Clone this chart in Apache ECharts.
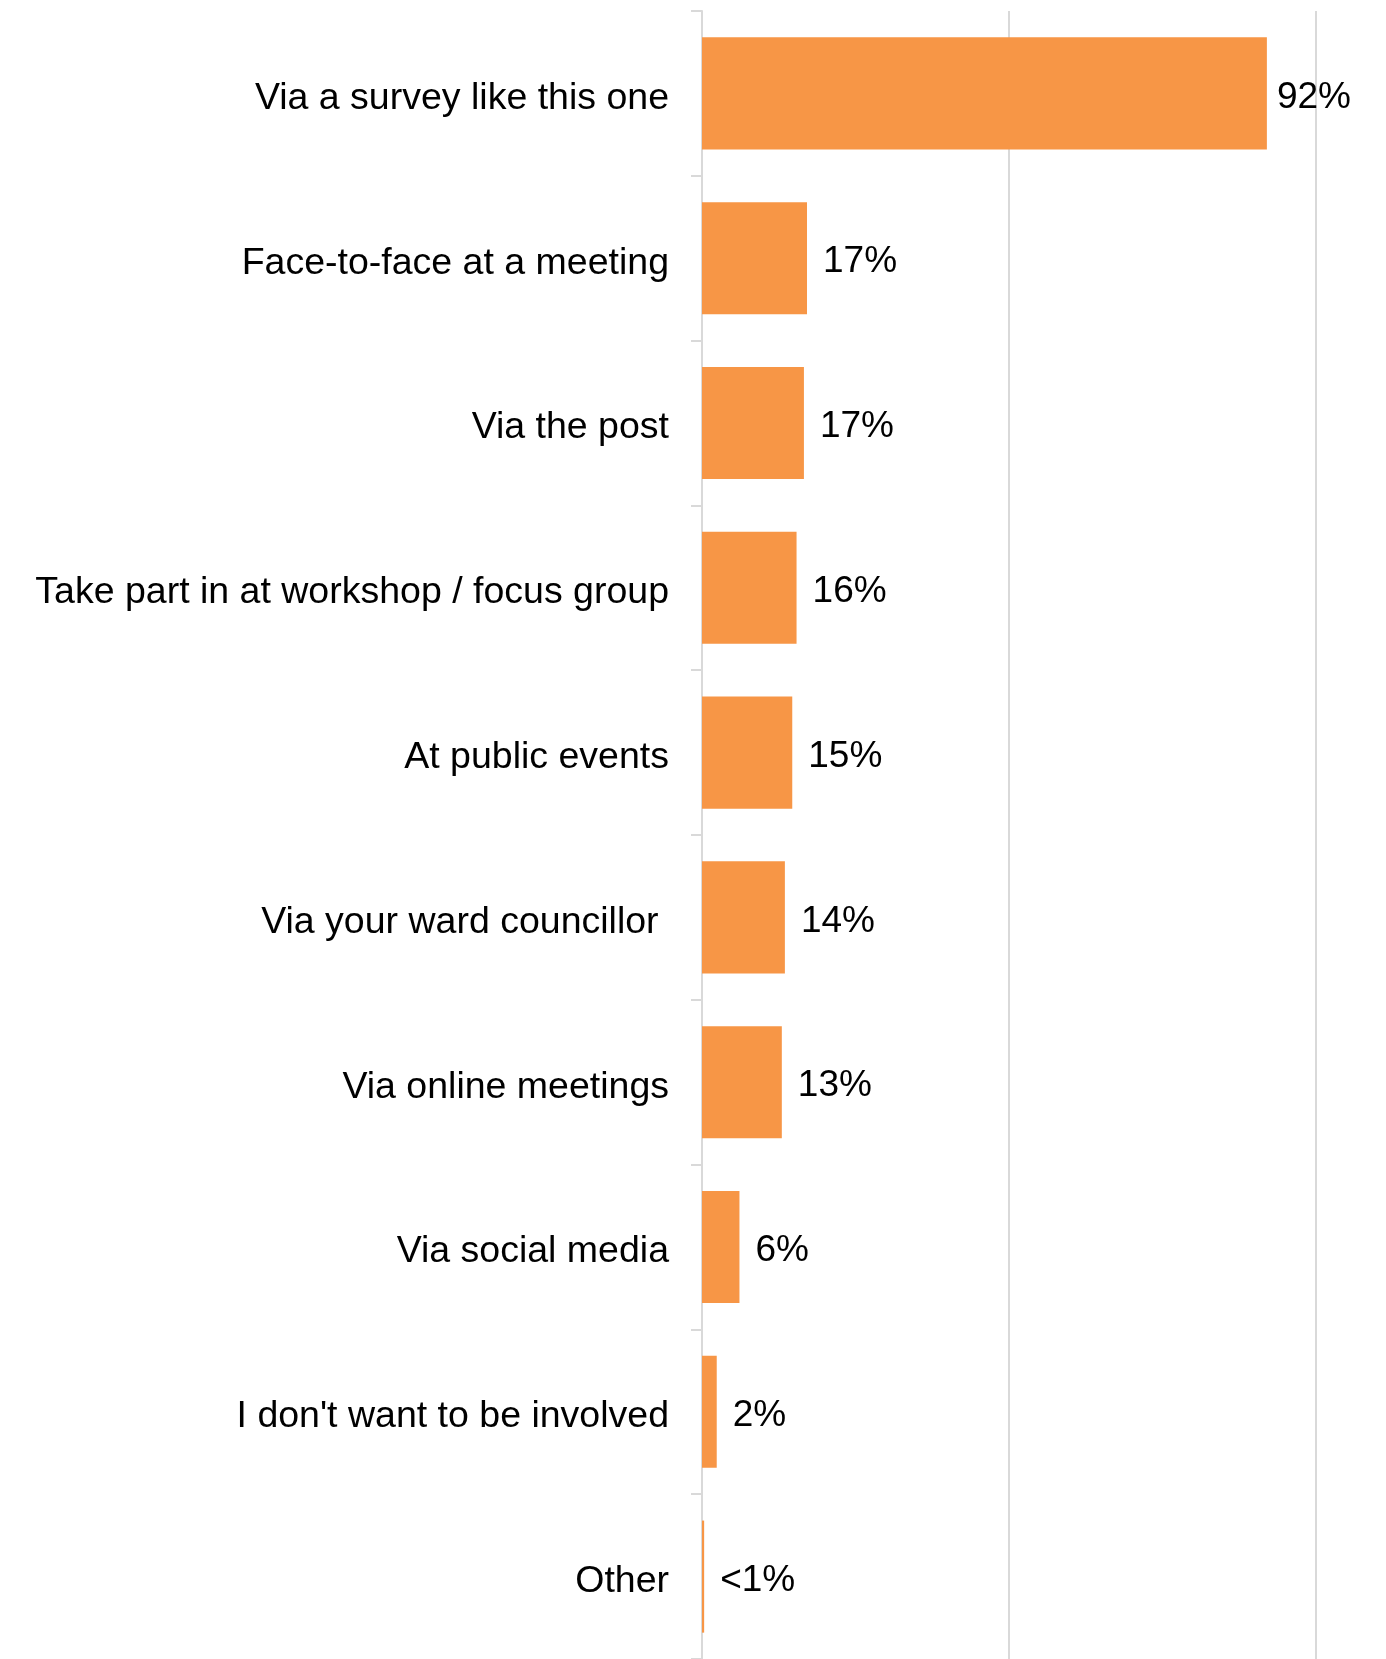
<!DOCTYPE html>
<html>
<head>
<meta charset="utf-8">
<script src="https://cdn.jsdelivr.net/npm/echarts@6/dist/echarts.min.js"></script>
<style>
html,body{margin:0;padding:0;background:#fff;}
#chart{width:1386px;height:1659px;}
</style>
</head>
<body>
<div id="chart"></div>
<script>
var categories = [
  "Via a survey like this one",
  "Face-to-face at a meeting",
  "Via the post",
  "Take part in at workshop / focus group",
  "At public events",
  "Via your ward councillor ",
  "Via online meetings",
  "Via social media",
  "I don't want to be involved",
  "Other"
];
var values = [92, 17.1, 16.6, 15.4, 14.7, 13.5, 13.0, 6.1, 2.4, 0.35];
var valueLabels = ["92%", "17%", "17%", "16%", "15%", "14%", "13%", "6%", "2%", "<1%"];

var chart = echarts.init(document.getElementById('chart'), null, {renderer: 'canvas'});
var FONT = '"Liberation Sans", Arial, sans-serif';

var seriesData = values.map(function (v, i) {
  var d = {value: v};
  if (i === 0) d.label = {distance: 10};
  return d;
});

chart.setOption({
  animation: false,
  backgroundColor: '#ffffff',
  grid: {left: 702, width: 614, top: 11, height: 1655, containLabel: false},
  xAxis: {
    type: 'value',
    min: 0, max: 100, interval: 50,
    axisLine: {show: false},
    axisTick: {show: false},
    axisLabel: {show: false},
    splitLine: {show: true, lineStyle: {color: '#d9d9d9', width: 2}}
  },
  yAxis: {
    type: 'category',
    inverse: true,
    data: categories,
    axisLine: {show: true, lineStyle: {color: '#d9d9d9', width: 2}},
    axisTick: {show: true, length: 11, lineStyle: {color: '#d9d9d9', width: 2}},
    axisLabel: {
      color: '#000', fontFamily: FONT, fontSize: 37.5, margin: 33,
      formatter: function (v) { return '{a|' + v + '}'; },
      rich: {a: {color: '#000', fontFamily: FONT, fontSize: 37.5, padding: [10, 0, 0, 0]}}
    }
  },
  series: [{
    type: 'bar',
    data: seriesData,
    barCategoryGap: '32%',
    itemStyle: {color: '#F79646'},
    label: {
      show: true,
      position: 'right',
      distance: 16,
      offset: [0, 4],
      color: '#000',
      fontFamily: FONT,
      fontSize: 37,
      formatter: function (p) { return valueLabels[p.dataIndex]; }
    }
  }]
});
</script>
</body>
</html>
